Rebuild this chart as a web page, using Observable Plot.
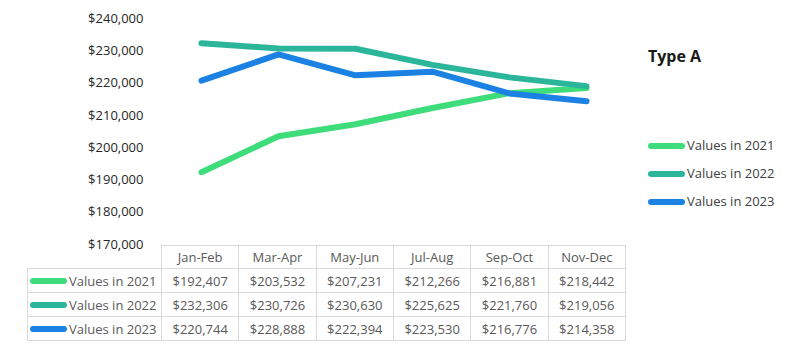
<!DOCTYPE html>
<html>
<head>
<meta charset="utf-8">
<script src="https://cdn.jsdelivr.net/npm/d3@7"></script>
<script src="https://cdn.jsdelivr.net/npm/@observablehq/plot@0.6"></script>
<style>
  html, body { margin: 0; padding: 0; background: #fff; }
  #wrap { position: relative; width: 792px; height: 348px; font-family: "Open Sans", sans-serif; overflow: hidden; }
  #wrap svg { position: absolute; left: 0; top: 0; }
  table.dt { position: absolute; left: 27px; top: 245px; border-collapse: collapse; table-layout: fixed; font-size: 13px; color: #595959; }
  table.dt td { border: 1px solid #d9d9d9; text-align: center; padding: 0; white-space: nowrap; overflow: hidden; }
  table.dt tr.hdr td { height: 22px; }
  table.dt tr.row td { height: 23px; }
  table.dt td.corner { border-top: none; border-left: none; }
  table.dt td.lab { text-align: left; }
  .sw { display: inline-block; width: 37px; height: 6px; border-radius: 3px; vertical-align: middle; margin: 0 2px 0 2px; position: relative; top: -1px; }
  .legtitle { position: absolute; left: 648px; top: 45px; font-weight: bold; font-size: 16px; color: #1a1a1a; }
  .legitem { position: absolute; left: 648px; font-size: 13px; color: #404040; white-space: nowrap; line-height: 16px; }
  .legitem .sw { margin: 0 2px 0 0; }
</style>
</head>
<body>
<div id="wrap"></div>
<script>
const categories = ["Jan-Feb", "Mar-Apr", "May-Jun", "Jul-Aug", "Sep-Oct", "Nov-Dec"];
const seriesNames = ["Values in 2021", "Values in 2022", "Values in 2023"];
const values2021 = [192407, 203532, 207231, 212266, 216881, 218442];
const values2022 = [232306, 230726, 230630, 225625, 221760, 219056];
const values2023 = [220744, 228888, 222394, 223530, 216776, 214358];
const colors = ["#3fdc7b", "#2bb69b", "#1b82e3"];
const yTicks = [170000, 180000, 190000, 200000, 210000, 220000, 230000, 240000];
const legendTitle = "Type A";

const seriesValues = [values2021, values2022, values2023];
const drawOrder = [0, 2, 1];
const rows = [];
for (const s of drawOrder) {
  categories.forEach((c, i) => rows.push({series: seriesNames[s], cat: c, value: seriesValues[s][i], order: s}));
}
const money = d => "$" + d3.format(",")(d);

const W = 792, H = 348;
const plotLeft = 161, plotRight = 625, plotTop = 18, plotBottom = 244;

const chart = Plot.plot({
  width: W,
  height: H,
  marginLeft: plotLeft,
  marginRight: W - plotRight,
  marginTop: plotTop,
  marginBottom: H - plotBottom,
  style: {fontFamily: "Open Sans, sans-serif", fontSize: "13px", background: "transparent"},
  x: {type: "point", domain: categories, padding: 0.5, axis: null},
  y: {domain: [170000, 240000], ticks: yTicks, tickFormat: money, label: null},
  color: {domain: seriesNames, range: colors},
  marks: [
    Plot.axisY({ticks: yTicks, tickFormat: money, tickSize: 0, tickPadding: 18, label: null, fill: "#262626", fontSize: 13}),
    ...drawOrder.map(s => Plot.line(rows.filter(r => r.order === s), {
      x: "cat", y: "value", stroke: colors[s], strokeWidth: 6,
      strokeLinecap: "round", strokeLinejoin: "round"
    }))
  ]
});

const wrap = document.getElementById("wrap");
wrap.appendChild(chart);

// Data table
const colW = (plotRight - plotLeft) / categories.length;
const labW = plotLeft - 27;
const table = document.createElement("table");
table.className = "dt";
table.style.width = (labW + colW * categories.length) + "px";
const cg = document.createElement("colgroup");
const c0 = document.createElement("col"); c0.style.width = labW + "px"; cg.appendChild(c0);
categories.forEach(() => { const c = document.createElement("col"); c.style.width = colW + "px"; cg.appendChild(c); });
table.appendChild(cg);
const hdr = document.createElement("tr"); hdr.className = "hdr";
const corner = document.createElement("td"); corner.className = "corner"; hdr.appendChild(corner);
categories.forEach(c => { const td = document.createElement("td"); td.textContent = c; hdr.appendChild(td); });
table.appendChild(hdr);
seriesNames.forEach((name, s) => {
  const tr = document.createElement("tr"); tr.className = "row";
  const lab = document.createElement("td"); lab.className = "lab";
  lab.innerHTML = `<span class="sw" style="background:${colors[s]}"></span>${name}`;
  tr.appendChild(lab);
  seriesValues[s].forEach(v => { const td = document.createElement("td"); td.textContent = money(v); tr.appendChild(td); });
  table.appendChild(tr);
});
wrap.appendChild(table);

// Legend
const lt = document.createElement("div"); lt.className = "legtitle"; lt.textContent = legendTitle; wrap.appendChild(lt);
const legTops = [137, 165, 193];
seriesNames.forEach((name, s) => {
  const d = document.createElement("div"); d.className = "legitem"; d.style.top = legTops[s] + "px";
  d.innerHTML = `<span class="sw" style="background:${colors[s]}"></span>${name}`;
  wrap.appendChild(d);
});
</script>
</body>
</html>
